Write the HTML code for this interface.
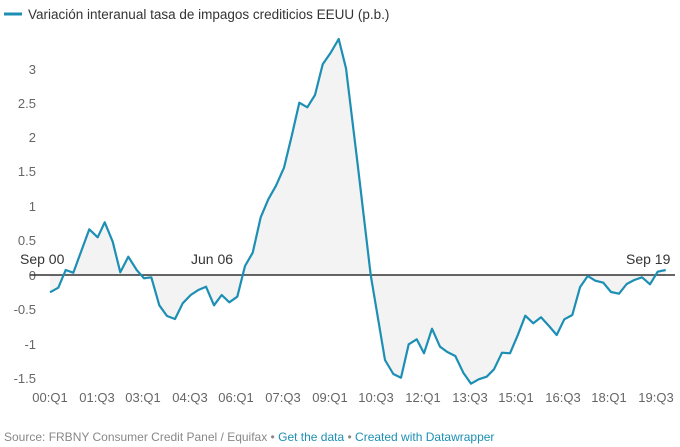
<!DOCTYPE html>
<html><head><meta charset="utf-8"><style>
body{margin:0;width:680px;height:447px;background:#fff;font-family:"Liberation Sans",sans-serif;overflow:hidden}
</style></head><body>
<svg width="680" height="447" xmlns="http://www.w3.org/2000/svg" style="position:absolute;left:0;top:0">
<line x1="4" y1="14" x2="22" y2="14" stroke="#1d8fb4" stroke-width="3"/>
<text x="28" y="19" font-size="13.5" fill="#333">Variación interanual tasa de impagos crediticios EEUU (p.b.)</text>
<g font-size="13" fill="#666" text-anchor="end">
<text x="36" y="74">3</text><text x="36" y="108">2.5</text><text x="36" y="142">2</text><text x="36" y="176">1.5</text><text x="36" y="211">1</text><text x="36" y="245">0.5</text><text x="36" y="280">0</text><text x="36" y="314">-0.5</text><text x="36" y="349">-1</text><text x="36" y="383">-1.5</text>
</g>
<g font-size="13" fill="#666" text-anchor="middle">
<text x="50" y="402">00:Q1</text><text x="97" y="402">01:Q3</text><text x="143" y="402">03:Q1</text><text x="190" y="402">04:Q3</text><text x="236" y="402">06:Q1</text><text x="283" y="402">07:Q3</text><text x="330" y="402">09:Q1</text><text x="376" y="402">10:Q3</text><text x="423" y="402">12:Q1</text><text x="470" y="402">13:Q3</text><text x="516" y="402">15:Q1</text><text x="563" y="402">16:Q3</text><text x="609" y="402">18:Q1</text><text x="656" y="402">19:Q3</text>
</g>
<polygon fill="#f3f3f3" points="50,275 50,292.3 58.3,287.7 65.7,270 73.3,272.7 81.3,251 89.3,229.3 97.7,237.3 104.7,222.3 112.7,241.7 120.3,272.3 128.3,256.7 136.7,270 144,278.3 151.3,277.3 159.3,305.3 167,316 175,319 182.7,303.3 190.7,295 198.3,290 206,286.7 214,305.3 221.7,295 229.3,302.3 237.3,296.7 245,266 252.7,252.7 260.7,217.3 268.3,199.3 276,185.7 284,167.7 291.7,136 299.3,102.7 307.3,107.3 315,95 322.7,64.3 330.7,52.7 338.7,39 346,68.3 357.5,163 370.7,275 385,360 393.3,374 401,377.7 408.7,344.3 416.7,339.3 424,353.3 432,328.7 440,346.7 447.3,352 455.3,356 463.3,372.7 471,383.7 478.7,379.3 486.7,376.7 494,369.3 502,352.7 510,353.3 517.7,335.3 525.3,315.7 533.3,323.3 541,317.3 549,326 556.7,335 564.3,319.3 572.3,315 580,287.3 587.7,276 595.3,280.7 603.3,282.7 611,292 619,293.7 626.7,284 634.3,280 642,277.3 650,284.3 657.7,271.7 665.7,270 665.7,275"/>
<line x1="30" y1="275" x2="675" y2="275" stroke="#333" stroke-width="1.5"/>
<polyline fill="none" stroke="#1d8fb4" stroke-width="2.2" stroke-linejoin="round" points="50,292.3 58.3,287.7 65.7,270 73.3,272.7 81.3,251 89.3,229.3 97.7,237.3 104.7,222.3 112.7,241.7 120.3,272.3 128.3,256.7 136.7,270 144,278.3 151.3,277.3 159.3,305.3 167,316 175,319 182.7,303.3 190.7,295 198.3,290 206,286.7 214,305.3 221.7,295 229.3,302.3 237.3,296.7 245,266 252.7,252.7 260.7,217.3 268.3,199.3 276,185.7 284,167.7 291.7,136 299.3,102.7 307.3,107.3 315,95 322.7,64.3 330.7,52.7 338.7,39 346,68.3 357.5,163 370.7,275 385,360 393.3,374 401,377.7 408.7,344.3 416.7,339.3 424,353.3 432,328.7 440,346.7 447.3,352 455.3,356 463.3,372.7 471,383.7 478.7,379.3 486.7,376.7 494,369.3 502,352.7 510,353.3 517.7,335.3 525.3,315.7 533.3,323.3 541,317.3 549,326 556.7,335 564.3,319.3 572.3,315 580,287.3 587.7,276 595.3,280.7 603.3,282.7 611,292 619,293.7 626.7,284 634.3,280 642,277.3 650,284.3 657.7,271.7 665.7,270"/>
<g font-size="14" fill="#333">
<text x="20" y="264">Sep 00</text><text x="191" y="264">Jun 06</text><text x="626" y="264">Sep 19</text>
</g>
<text x="4" y="441" font-size="12" fill="#888">Source: FRBNY Consumer Credit Panel / Equifax • <tspan fill="#1d8fb4">Get the data</tspan> • <tspan fill="#1d8fb4">Created with Datawrapper</tspan></text>
</svg>
</body></html>
